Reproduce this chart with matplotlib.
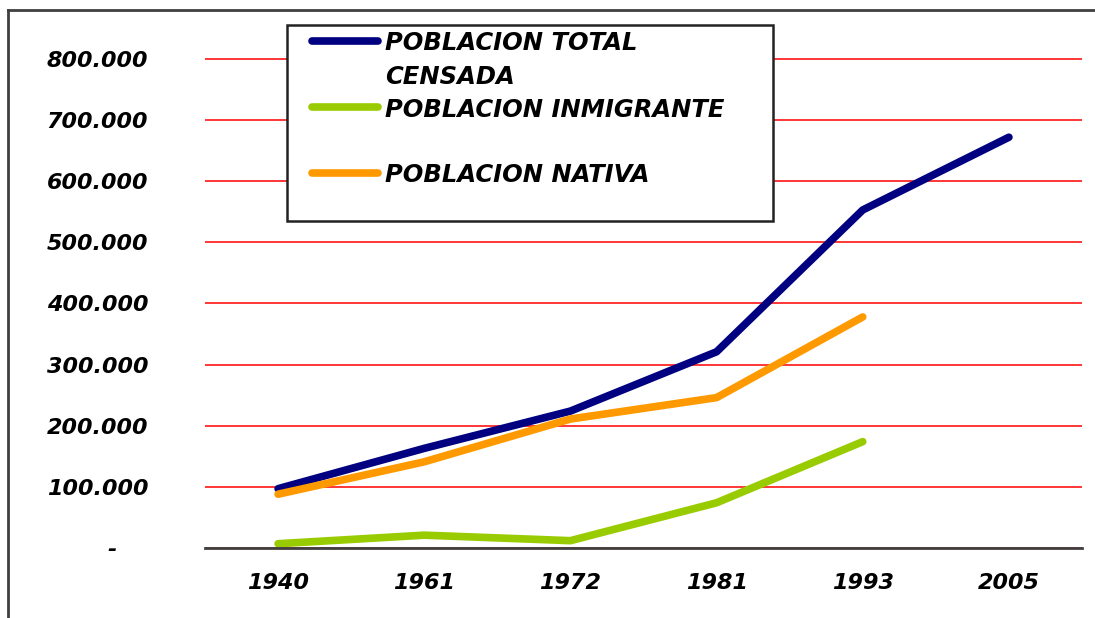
import matplotlib
matplotlib.use("Agg")
import matplotlib.pyplot as plt
from matplotlib.lines import Line2D
from matplotlib.patches import Rectangle

# Census years and population values
years = ["1940", "1961", "1972", "1981", "1993", "2005"]
total = [97000, 163000, 224000, 321000, 553000, 672000]
native = [88000, 141000, 211000, 246000, 378000]
immigrant = [7000, 21000, 12000, 74000, 174000]

y_ticks = [0, 100000, 200000, 300000, 400000, 500000, 600000, 700000, 800000]
y_labels = ["-    ", "100.000", "200.000", "300.000", "400.000",
            "500.000", "600.000", "700.000", "800.000"]

# legend rows: (lines of text, handle y in px, baseline y of each line in px)
legend_rows = [
    (["POBLACION TOTAL", "CENSADA"], 41, [50, 84]),
    (["POBLACION INMIGRANTE"], 107, [117]),
    (["POBLACION NATIVA"], 173, [182]),
]

plt.rcParams["font.family"] = ["DejaVu Sans"]

W, H = 1095, 618
fig = plt.figure(figsize=(W / 100, H / 100), dpi=100)
# 0 sits at y=548 px, 800.000 at y=59 px; axes top reaches 850.000
ax = fig.add_axes([205 / W, 1 - 548 / H, (1082 - 205) / W, (548 - 28.4) / H])

x = list(range(len(years)))
l_total, = ax.plot(x, total, color="#000080", lw=5.5, solid_capstyle="round", zorder=3)
l_imm, = ax.plot(x[:len(immigrant)], immigrant, color="#99CC00", lw=5.5,
                 solid_capstyle="round", zorder=3)
l_nat, = ax.plot(x[:len(native)], native, color="#FF9900", lw=5.5,
                 solid_capstyle="round", zorder=3)

ax.set_xlim(-0.5, len(years) - 0.5)
ax.set_ylim(0, 850000)
ax.set_yticks(y_ticks)
ax.set_yticklabels(y_labels)
ax.set_xticks(x)
ax.set_xticklabels(years)
for lbl in ax.get_yticklabels() + ax.get_xticklabels():
    lbl.set_fontweight("bold")
    lbl.set_fontstyle("italic")
    lbl.set_fontsize(16)
ax.tick_params(axis="y", length=0, pad=41)
ax.tick_params(axis="x", length=0, pad=18)

ax.grid(axis="y", color="#FF0000", lw=1.1)
ax.set_axisbelow(True)
for side in ["top", "left", "right"]:
    ax.spines[side].set_visible(False)
ax.spines["bottom"].set_color("#404040")
ax.spines["bottom"].set_linewidth(2)
ax.spines["bottom"].set_zorder(4)

# legend box drawn in figure pixels, Excel style
fig.add_artist(Rectangle((287 / W, 1 - 221 / H), (773 - 287) / W, (221 - 25) / H,
                         transform=fig.transFigure, facecolor="white",
                         edgecolor="#222222", lw=1.8, zorder=5))
for (lines, hy, bases), handle in zip(legend_rows, [l_total, l_imm, l_nat]):
    fig.add_artist(Line2D([312 / W, 378 / W], [1 - hy / H, 1 - hy / H],
                          color=handle.get_color(), lw=5.5, solid_capstyle="round",
                          transform=fig.transFigure, zorder=6))
    for txt, by in zip(lines, bases):
        fig.text(385 / W, 1 - by / H, txt, fontsize=17.5, fontweight="bold",
                 fontstyle="italic", va="baseline", ha="left", zorder=6)

# outer chart border (top and left edges)
fig.add_artist(Line2D([8 / W, 1.0], [1 - 10 / H, 1 - 10 / H], color="#404040", lw=2,
                      transform=fig.transFigure))
fig.add_artist(Line2D([8 / W, 8 / W], [0.0, 1 - 10 / H], color="#404040", lw=2,
                      transform=fig.transFigure))

fig.savefig("out.png", dpi=100)
